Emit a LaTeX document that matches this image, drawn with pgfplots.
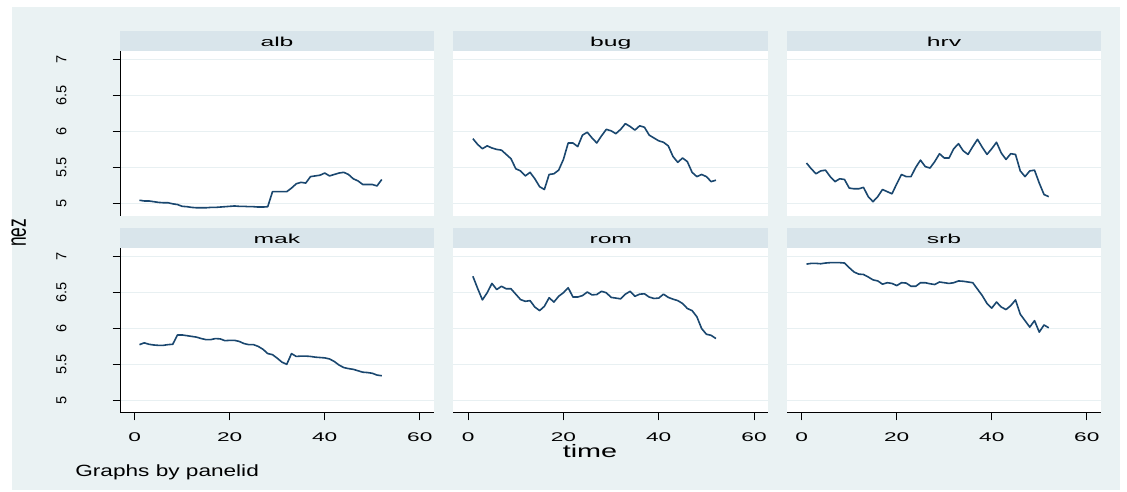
\documentclass[border=0pt]{standalone}
\usepackage{fontspec}
\setmainfont{Liberation Sans}
\usepackage{pgfplots}
\pgfplotsset{compat=1.18}
\usepackage{pgfplotstable}
\definecolor{bgc}{RGB}{234,242,243}
\definecolor{stripc}{RGB}{217,229,235}
\definecolor{gridc}{RGB}{232,240,242}
\definecolor{navy}{RGB}{26,71,111}
\newcommand\xtfont{\fontsize{9.45pt}{10pt}\selectfont}
\newcommand\ytfont{\fontsize{10.9pt}{12pt}\selectfont}
\newcommand\titfont{\fontsize{9.75pt}{11pt}\selectfont}

\pgfplotstableread{
t v
1 5.04
2 5.03
3 5.03
4 5.02
5 5.01
6 5.005
7 5.005
8 4.99
9 4.98
10 4.955
11 4.95
12 4.94
13 4.935
14 4.935
15 4.935
16 4.94
17 4.94
18 4.945
19 4.95
20 4.955
21 4.96
22 4.955
23 4.955
24 4.95
25 4.95
26 4.945
27 4.945
28 4.95
29 5.16
30 5.16
31 5.16
32 5.16
33 5.21
34 5.27
35 5.29
36 5.28
37 5.37
38 5.38
39 5.39
40 5.42
41 5.38
42 5.40
43 5.42
44 5.43
45 5.40
46 5.34
47 5.31
48 5.26
49 5.26
50 5.26
51 5.24
52 5.33
}\alb

\pgfplotstableread{
t v
1 5.90
2 5.82
3 5.76
4 5.80
5 5.77
6 5.75
7 5.74
8 5.68
9 5.62
10 5.48
11 5.45
12 5.38
13 5.43
14 5.34
15 5.23
16 5.19
17 5.40
18 5.41
19 5.46
20 5.61
21 5.84
22 5.84
23 5.79
24 5.95
25 5.99
26 5.91
27 5.84
28 5.94
29 6.03
30 6.01
31 5.97
32 6.03
33 6.11
34 6.07
35 6.02
36 6.08
37 6.06
38 5.95
39 5.91
40 5.87
41 5.85
42 5.80
43 5.65
44 5.57
45 5.63
46 5.58
47 5.43
48 5.37
49 5.40
50 5.37
51 5.30
52 5.32
}\bug

\pgfplotstableread{
t v
1 5.56
2 5.48
3 5.41
4 5.45
5 5.46
6 5.37
7 5.30
8 5.34
9 5.33
10 5.21
11 5.20
12 5.20
13 5.22
14 5.09
15 5.02
16 5.09
17 5.19
18 5.16
19 5.13
20 5.27
21 5.40
22 5.37
23 5.37
24 5.50
25 5.60
26 5.51
27 5.49
28 5.58
29 5.69
30 5.63
31 5.63
32 5.76
33 5.83
34 5.73
35 5.68
36 5.79
37 5.89
38 5.78
39 5.68
40 5.76
41 5.85
42 5.70
43 5.61
44 5.69
45 5.68
46 5.45
47 5.37
48 5.45
49 5.46
50 5.28
51 5.12
52 5.09
}\hrv

\pgfplotstableread{
t v
1 5.775
2 5.80
3 5.78
4 5.77
5 5.765
6 5.765
7 5.775
8 5.78
9 5.91
10 5.91
11 5.90
12 5.89
13 5.88
14 5.86
15 5.845
16 5.845
17 5.86
18 5.855
19 5.83
20 5.835
21 5.835
22 5.82
23 5.79
24 5.775
25 5.775
26 5.75
27 5.71
28 5.65
29 5.635
30 5.585
31 5.53
32 5.50
33 5.65
34 5.61
35 5.615
36 5.615
37 5.61
38 5.60
39 5.595
40 5.59
41 5.575
42 5.54
43 5.49
44 5.455
45 5.44
46 5.43
47 5.41
48 5.39
49 5.385
50 5.375
51 5.35
52 5.34
}\mak

\pgfplotstableread{
t v
1 6.73
2 6.56
3 6.40
4 6.50
5 6.63
6 6.545
7 6.59
8 6.555
9 6.555
10 6.48
11 6.405
12 6.38
13 6.39
14 6.30
15 6.25
16 6.31
17 6.43
18 6.37
19 6.45
20 6.50
21 6.57
22 6.44
23 6.44
24 6.46
25 6.51
26 6.47
27 6.475
28 6.52
29 6.50
30 6.435
31 6.425
32 6.415
33 6.48
34 6.52
35 6.45
36 6.48
37 6.485
38 6.44
39 6.42
40 6.425
41 6.48
42 6.435
43 6.41
44 6.39
45 6.35
46 6.28
47 6.25
48 6.165
49 6.00
50 5.92
51 5.905
52 5.86
}\rom

\pgfplotstableread{
t v
1 6.90
2 6.91
3 6.91
4 6.905
5 6.915
6 6.92
7 6.92
8 6.92
9 6.915
10 6.85
11 6.79
12 6.76
13 6.755
14 6.72
15 6.68
16 6.665
17 6.62
18 6.64
19 6.63
20 6.60
21 6.64
22 6.635
23 6.59
24 6.59
25 6.64
26 6.64
27 6.625
28 6.615
29 6.65
30 6.64
31 6.63
32 6.64
33 6.665
34 6.66
35 6.65
36 6.64
37 6.55
38 6.46
39 6.35
40 6.285
41 6.37
42 6.30
43 6.265
44 6.32
45 6.40
46 6.20
47 6.11
48 6.02
49 6.11
50 5.95
51 6.05
52 6.01
}\srb

\pgfplotsset{
  panel/.style={
    scale only axis, height=123.75pt, anchor=south west,
    xmin=-3.1, xmax=63, ymin=4.82, ymax=7.125,
    axis background/.style={fill=white},
    axis x line*=bottom, axis y line*=left,
    axis line style={-, black, line width=0.75pt},
    xtick={0,20,40,60}, ytick={5,5.5,6,6.5,7},
    ymajorgrids, major grid style={gridc, line width=0.8pt},
    tick align=outside, major tick length=5.5pt,
    tick style={black, line width=0.75pt},
    xticklabel style={font=\xtfont, inner sep=0pt, anchor=north, yshift=-9pt, xscale=1.8},
    yticklabel style={font=\ytfont, inner sep=0pt, xshift=-34.5pt, rotate=90, anchor=south},
    /pgf/number format/assume math mode=true,
  },
  toprow/.style={x axis line style={draw=none}, xtick=\empty},
  noleft/.style={y axis line style={draw=none}, ytick style={draw=none}, yticklabels={}},
  ser/.style={navy, line width=1.2pt, line join=round, mark=none},
}

\begin{document}
\begin{tikzpicture}
\fill[white] (0,0) rectangle (845.25pt,369pt);
\fill[bgc] (9pt,1.5pt) rectangle (840pt,363.75pt);
% strips
\foreach \xa/\xb in {90pt/325.5pt, 340pt/576.25pt, 590.25pt/825.75pt}{
  \fill[stripc] (\xa,330.75pt) rectangle (\xb,345.75pt);
  \fill[stripc] (\xa,183pt) rectangle (\xb,198pt);
}
\node[anchor=base, font=\titfont, xscale=1.9] at (207.75pt,334pt) {alb};
\node[anchor=base, font=\titfont, xscale=1.9] at (458.1pt,334pt) {bug};
\node[anchor=base, font=\titfont, xscale=1.9] at (708pt,334pt) {hrv};
\node[anchor=base, font=\titfont, xscale=1.9] at (207.75pt,186.25pt) {mak};
\node[anchor=base, font=\titfont, xscale=1.9] at (458.1pt,186.25pt) {rom};
\node[anchor=base, font=\titfont, xscale=1.9] at (708pt,186.25pt) {srb};

\begin{axis}[panel, toprow, at={(90pt,207pt)}, width=235.5pt]
\addplot[ser] table[x=t,y=v] {\alb};
\end{axis}
\begin{axis}[panel, toprow, noleft, at={(340pt,207pt)}, width=236.25pt]
\addplot[ser] table[x=t,y=v] {\bug};
\end{axis}
\begin{axis}[panel, toprow, noleft, at={(590.25pt,207pt)}, width=235.5pt]
\addplot[ser] table[x=t,y=v] {\hrv};
\end{axis}
\begin{axis}[panel, at={(90pt,59.25pt)}, width=235.5pt]
\addplot[ser] table[x=t,y=v] {\mak};
\end{axis}
\begin{axis}[panel, noleft, at={(340pt,59.25pt)}, width=236.25pt]
\addplot[ser] table[x=t,y=v] {\rom};
\end{axis}
\begin{axis}[panel, noleft, at={(590.25pt,59.25pt)}, width=235.5pt]
\addplot[ser] table[x=t,y=v] {\srb};
\end{axis}

\node[anchor=base, font=\fontsize{13.5pt}{15pt}\selectfont, xscale=1.6] at (442.5pt,25.7pt) {time};
\node[anchor=base, font=\fontsize{13pt}{15pt}\selectfont, xscale=1.55, rotate=90] at (19.5pt,194.25pt) {nez};
\node[anchor=base west, inner sep=0pt, font=\fontsize{12.2pt}{14pt}\selectfont, xscale=1.39] at (56.25pt,11.5pt) {Graphs by panelid};

\pgfresetboundingbox
\path[use as bounding box] (0,0) rectangle (845.25pt,369pt);
\end{tikzpicture}
\end{document}
